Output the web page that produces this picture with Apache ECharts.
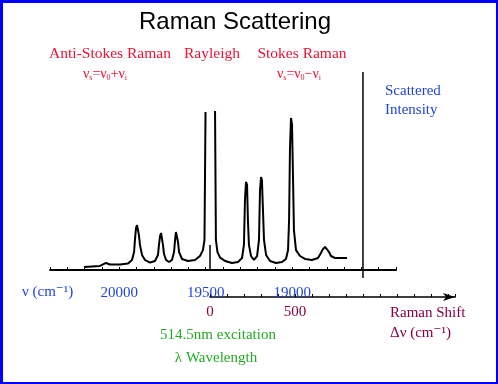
<!DOCTYPE html>
<html>
<head>
<meta charset="utf-8">
<script src="https://cdn.jsdelivr.net/npm/echarts@6/dist/echarts.min.js"></script>
<style>
html,body{margin:0;padding:0;background:#fff;}
#wrap{position:relative;width:498px;height:384px;}
#chart{position:absolute;left:0;top:0;width:498px;height:384px;}
#frame{position:absolute;left:0;top:0;width:498px;height:384px;box-sizing:border-box;border-style:solid;border-color:#0000ff;border-width:3px 2px 2px 3px;pointer-events:none;}
</style>
</head>
<body>
<div id="wrap"><div id="chart"></div><div id="frame"></div></div>
<script>
// Wavenumber axis tick labels (cm^-1)
var nuTickLabels = [20000, 19500, 19000];
// Raman shift axis tick labels (cm^-1)
var shiftTickLabels = [0, 500];
// Spectrum: [wavenumber (cm^-1), scattered intensity (a.u.)]; '-' breaks the clipped Rayleigh line
var spectrum = [
  [20203,1.6],[20111,2.1],[20076,3.6],[20053,2.8],[19995,2.8],[19949,3.3],[19926,5.1],[19914,9.1],
  [19909,15.2],[19903,21.2],[19897,22.7],[19891,22.2],[19886,17.7],[19880,12.7],[19868,7.6],[19851,5.1],
  [19822,3.8],[19793,4.6],[19776,7.6],[19770,12.7],[19764,17.2],[19758,18.7],[19753,18.2],[19747,12.7],
  [19741,8.1],[19729,5.1],[19712,4.1],[19695,5.1],[19683,9.1],[19677,15.2],[19672,19.2],[19666,18.7],
  [19660,14.2],[19654,9.1],[19637,5.6],[19602,4.6],[19562,5.1],[19533,7.1],[19516,10.1],[19507,15.2],
  [19501,79.8],[19474,'-'],[19446,80.3],[19441,15.2],[19432,9.1],[19417,6.3],[19388,4.6],[19348,3.6],
  [19313,4.1],[19290,6.1],[19279,12.7],[19273,35.4],[19267,44.5],[19261,43.0],[19256,25.3],[19250,12.7],
  [19238,7.1],[19221,5.1],[19203,7.1],[19192,15.2],[19186,40.4],[19180,47.0],[19175,45.5],[19169,30.3],
  [19163,15.2],[19151,7.6],[19128,4.6],[19094,3.6],[19059,4.1],[19036,5.6],[19024,10.1],[19018,25.3],
  [19013,60.6],[19007,76.8],[19001,73.3],[18995,45.5],[18990,20.2],[18978,10.1],[18955,7.1],[18926,5.6],
  [18886,5.1],[18851,6.1],[18834,8.6],[18822,10.6],[18810,11.7],[18799,11.1],[18787,9.1],[18776,7.1],
  [18753,6.1],[18724,6.1],[18683,6.1]
];
// Intensity axis line (drawn at this wavenumber)
var intensityAxis = [[18591,-4],[18591,100]];
// Excitation line marker at the laser wavenumber
var laserMark = [[19475,0],[19475,12.7]];

var blue = '#2244dd', red = '#ee1133', green = '#22aa22', maroon = '#880044';
var serif = '"Liberation Serif", "DejaVu Serif", serif';

function txt(x, y, s, color, size, align, font) {
  return {type:'text', style:{x:x, y:y, text:s, fill:color, font: size + 'px ' + (font || serif), textAlign: align || 'left', textVerticalAlign:'middle'}};
}
function formula(x, y, op) {
  return {type:'text', style:{x:x, y:y, text:'ν{s|s}=ν{s|0}' + op + 'ν{s|i}', fill:red, fontFamily:serif, fontSize:14,
    textAlign:'center', textVerticalAlign:'middle', rich:{s:{fontSize:8, fill:red, fontFamily:serif, padding:[7,0,0,0]}}}};
}
function plain(v) { return String(v); }

var chart = echarts.init(document.getElementById('chart'), null, {renderer:'canvas'});
chart.setOption({
  animation:false,
  backgroundColor:'#ffffff',
  grid:[
    {left:50, width:346, top:72, height:206},
    {left:210, width:245, top:280, height:17}
  ],
  xAxis:[
    {type:'value', gridIndex:0, min:18400, max:20400, inverse:true, interval:100,
     axisLine:{onZero:true, lineStyle:{color:'#000', width:2}},
     axisTick:{inside:true, length:3, lineStyle:{color:'#000'}},
     axisLabel:{customValues:nuTickLabels, formatter:plain, color:blue, fontFamily:serif, fontSize:15, margin:8},
     splitLine:{show:false}},
    {type:'value', gridIndex:1, min:0, max:1440, interval:100, position:'bottom',
     axisLine:{onZero:false, symbol:['none','arrow'], symbolSize:[6,12], lineStyle:{color:'#000', width:1.6}},
     axisTick:{inside:true, length:3, lineStyle:{color:'#000'}},
     axisLabel:{customValues:shiftTickLabels, formatter:plain, color:maroon, fontFamily:serif, fontSize:15, margin:8},
     splitLine:{show:false}}
  ],
  yAxis:[
    {type:'value', gridIndex:0, min:-4, max:100, axisLine:{show:false}, axisTick:{show:false}, axisLabel:{show:false}, splitLine:{show:false}},
    {type:'value', gridIndex:1, min:0, max:1, show:false}
  ],
  series:[
    {type:'line', xAxisIndex:0, yAxisIndex:0, data:spectrum, showSymbol:false, symbol:'none', connectNulls:false,
     lineStyle:{color:'#000', width:2}},
    {type:'line', xAxisIndex:0, yAxisIndex:0, data:intensityAxis, showSymbol:false, symbol:'none',
     lineStyle:{color:'#000', width:1.5}},
    {type:'line', xAxisIndex:0, yAxisIndex:0, data:laserMark, showSymbol:false, symbol:'none',
     lineStyle:{color:'#000', width:1.5}}
  ],
  graphic:[
    txt(235, 22, 'Raman Scattering', '#000', 24, 'center', '"Liberation Sans", Arial, sans-serif'),
    txt(110, 54, 'Anti-Stokes Raman', red, 15.5, 'center'),
    txt(212, 54, 'Rayleigh', red, 15.5, 'center'),
    txt(302, 54, 'Stokes Raman', red, 15.5, 'center'),
    formula(105, 74, '+'),
    formula(299, 74, '−'),
    txt(385, 91, 'Scattered', blue, 15),
    txt(385, 110, 'Intensity', blue, 15),
    txt(22, 292, 'ν (cm⁻¹)', blue, 15),
    txt(390, 313, 'Raman Shift', maroon, 15),
    txt(390, 333, 'Δν (cm⁻¹)', maroon, 15),
    txt(218, 335, '514.5nm excitation', green, 15, 'center'),
    txt(216, 358, 'λ Wavelength', green, 15, 'center')
  ]
});
</script>
</body>
</html>
